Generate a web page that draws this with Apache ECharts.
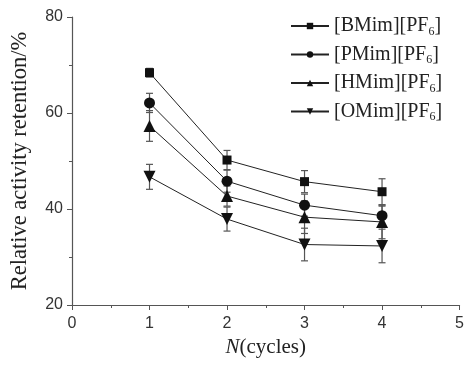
<!DOCTYPE html>
<html><head><meta charset="utf-8">
<script src="https://cdn.jsdelivr.net/npm/echarts@6/dist/echarts.min.js"></script>
<style>html,body{margin:0;padding:0;background:#fff}#c{width:467px;height:367px}</style>
</head><body><div id="c"></div>
<script>
var cycles = [1, 2, 3, 4];
var names = ['[BMim][PF6]', '[PMim][PF6]', '[HMim][PF6]', '[OMim][PF6]'];
var bmim = [68.4, 50.2, 45.7, 43.6];
var bmimErr = [0.9, 2.0, 2.3, 2.7];
var pmim = [62.1, 45.8, 40.8, 38.6];
var pmimErr = [2.0, 2.3, 2.3, 2.0];
var hmim = [57.3, 42.7, 38.3, 37.3];
var hmimErr = [3.2, 2.1, 3.4, 3.5];
var omim = [46.7, 37.9, 32.6, 32.3];
var omimErr = [2.6, 2.5, 3.4, 3.5];
var xTicks = [0, 1, 2, 3, 4, 5];
var yTicks = [20, 40, 60, 80];

var values = [bmim, pmim, hmim, omim];
var errs = [bmimErr, pmimErr, hmimErr, omimErr];
var symbols = ['rect', 'circle', 'triangle', 'triangle'];
var rotates = [0, 0, 0, 180];
var sizes = [9, 11, 12, 12];

var chart = echarts.init(document.getElementById('c'));
var series = [];
values.forEach(function (v, i) {
  var errData = cycles.map(function (c, j) { return [c, v[j] - errs[i][j], v[j] + errs[i][j]]; });
  series.push({
    type: 'custom',
    silent: true,
    z: 1,
    data: errData,
    renderItem: function (params, api) {
      var x = api.value(0);
      var lo = api.coord([x, api.value(1)]);
      var hi = api.coord([x, api.value(2)]);
      var w = 3.5;
      var st = { stroke: '#555', lineWidth: 1.2 };
      return {
        type: 'group',
        children: [
          { type: 'line', shape: { x1: lo[0], y1: lo[1], x2: hi[0], y2: hi[1] }, style: st },
          { type: 'line', shape: { x1: lo[0] - w, y1: lo[1], x2: lo[0] + w, y2: lo[1] }, style: st },
          { type: 'line', shape: { x1: hi[0] - w, y1: hi[1], x2: hi[0] + w, y2: hi[1] }, style: st }
        ]
      };
    }
  });
  series.push({
    name: names[i],
    type: 'line',
    z: 3,
    data: cycles.map(function (c, j) { return [c, v[j]]; }),
    symbol: symbols[i],
    symbolRotate: rotates[i],
    symbolSize: sizes[i],
    showAllSymbol: true,
    lineStyle: { color: '#222', width: 1 },
    itemStyle: { color: '#111', borderWidth: 0 },
    emphasis: { disabled: true }
  });
});

chart.setOption({
  animation: false,
  backgroundColor: '#fff',
  grid: { left: 72, right: 6, top: 17, bottom: 62 },
  legend: {
    orient: 'vertical',
    left: 285,
    top: 11,
    itemWidth: 38,
    itemHeight: 8,
    itemGap: 7,
    data: names,
    formatter: function (n) { return n.replace(/6\]$/, '{sub|6}]'); },
    textStyle: {
      fontFamily: 'Liberation Serif',
      fontSize: 20,
      color: '#222',
      rich: {
        sub: { fontFamily: 'Liberation Serif', fontSize: 12, color: '#222', verticalAlign: 'bottom', padding: [11, 0, 0, 0] }
      }
    }
  },
  xAxis: {
    type: 'value',
    min: 0, max: 5, interval: 1,
    name: '{i|N}(cycles)',
    nameLocation: 'middle',
    nameGap: 25,
    nameTextStyle: {
      fontFamily: 'Liberation Serif', fontSize: 21, color: '#222',
      rich: { i: { fontFamily: 'Liberation Serif', fontStyle: 'italic', fontSize: 21, color: '#222' } }
    },
    axisLine: { lineStyle: { color: '#555', width: 1.2 } },
    axisTick: { length: 5, lineStyle: { color: '#555' } },
    minorTick: { show: true, splitNumber: 2, length: 3, lineStyle: { color: '#555' } },
    splitLine: { show: false },
    axisLabel: { margin: 11, fontFamily: 'Liberation Sans', fontSize: 16, color: '#333' }
  },
  yAxis: {
    type: 'value',
    min: 20, max: 80, interval: 20,
    name: 'Relative activity retention/%',
    nameLocation: 'middle',
    nameGap: 40,
    nameRotate: 90,
    nameTextStyle: { fontFamily: 'Liberation Serif', fontSize: 22.5, color: '#222' },
    axisLine: { show: true, lineStyle: { color: '#555', width: 1.2 } },
    axisTick: { show: true, length: 5, lineStyle: { color: '#555' } },
    minorTick: { show: true, splitNumber: 2, length: 3, lineStyle: { color: '#555' } },
    splitLine: { show: false },
    axisLabel: { margin: 9, fontFamily: 'Liberation Sans', fontSize: 16, color: '#333' }
  },
  series: series
});
</script></body></html>
